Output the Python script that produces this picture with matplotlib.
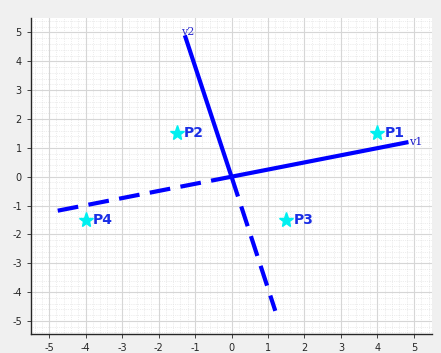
import numpy as np
import matplotlib.pyplot as plt
from matplotlib.ticker import MultipleLocator

plt.rcParams["axes.unicode_minus"] = False

# principal directions (end points)
v1 = np.array([4.85, 1.2])
v2 = np.array([-1.28, 4.9])
v1_neg = np.array([-4.85, -1.2])
v2_neg = np.array([1.2, -4.65])

point_names = ["P1", "P2", "P3", "P4"]
point_x = [4, -1.5, 1.5, -4]
point_y = [1.5, 1.5, -1.5, -1.5]

ticks = list(range(-5, 6))

fig = plt.figure(figsize=(4.41, 3.53), dpi=100)
fig.patch.set_facecolor("#f0f0f0")
ax = fig.add_axes([0.070, 0.054, 0.910, 0.895])
ax.set_facecolor("white")

ax.plot([0, v1[0]], [0, v1[1]], color="#0000ff", lw=3, solid_capstyle="butt")
ax.plot([0, v2[0]], [0, v2[1]], color="#0000ff", lw=3, solid_capstyle="butt")
ax.plot([0, v1_neg[0]], [0, v1_neg[1]], color="#0000ff", lw=3, ls=(0, (5, 2.5)))
ax.plot([0, v2_neg[0]], [0, v2_neg[1]], color="#0000ff", lw=3, ls=(0, (5, 2.5)))

ax.text(v1[0] + 0.02, v1[1], "v1", color="#1a1acc", family="DejaVu Serif",
        fontsize=8, va="center", ha="left", zorder=5)
ax.text(v2[0] - 0.1, v2[1] + 0.12, "v2", color="#2a2ad0", family="DejaVu Serif",
        fontsize=8, va="center", ha="left", zorder=5)

ax.plot(point_x, point_y, ls="none", marker="*", markersize=11, color="#00f0f0")
for name, x, y in zip(point_names, point_x, point_y):
    ax.text(x + 0.2, y, name, color="#1a2ee6", fontweight="bold", fontsize=10,
            va="center", ha="left")

ax.set_xlim(-5.5, 5.5)
ax.set_ylim(-5.45, 5.5)
ax.set_xticks(ticks)
ax.set_yticks(ticks)
ax.xaxis.set_minor_locator(MultipleLocator(0.2))
ax.yaxis.set_minor_locator(MultipleLocator(0.2))
ax.grid(which="major", color="#d6d6d6", lw=0.8)
ax.grid(which="minor", color="#dcdcdc", lw=0.5, ls=":")
ax.set_axisbelow(True)
ax.tick_params(which="major", labelsize=7, colors="#262626", length=3, width=0.6)
ax.tick_params(which="minor", length=0)
for s in ["top", "right"]:
    ax.spines[s].set_visible(False)
for s in ["left", "bottom"]:
    ax.spines[s].set_color("#262626")
    ax.spines[s].set_linewidth(1.0)

fig.savefig("out.png", dpi=100, facecolor=fig.get_facecolor())
